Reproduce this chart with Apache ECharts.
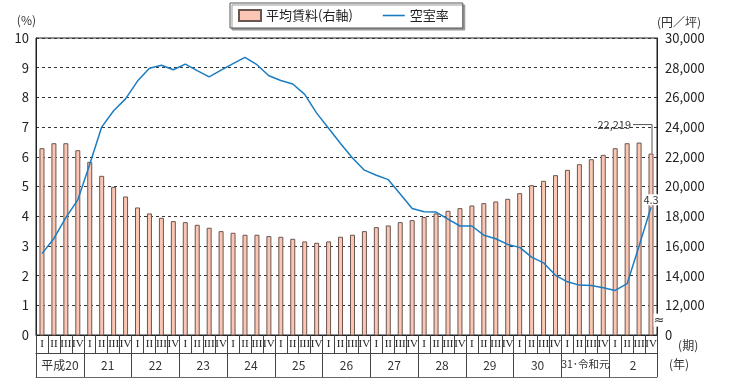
<!DOCTYPE html>
<html><head><meta charset="utf-8">
<script src="https://cdn.jsdelivr.net/npm/echarts@6/dist/echarts.min.js"></script>
<style>html,body{margin:0;padding:0;background:#fff}#c{width:730px;height:387px}</style>
</head><body><div id="c"></div>
<script>
const quarterLabels = [
 'I','II','III','IV','I','II','III','IV','I','II','III','IV','I','II','III','IV',
 'I','II','III','IV','I','II','III','IV','I','II','III','IV','I','II','III','IV',
 'I','II','III','IV','I','II','III','IV','I','II','III','IV','I','II','III','IV',
 'I','II','III','IV'];
const yearLabels = ['平成20','21','22','23','24','25','26','27','28','29','30','31･令和元','2'];
const rentTicks = [10000,12000,14000,16000,18000,20000,22000,24000,26000,28000,30000];
const rent = [
 22580,22915,22915,22444, 21660,20718,19978,19328, 18588,18185,17893,17669,
 17600,17422,17221,16996, 16884,16750,16750,16660, 16615,16481,16301,16212,
 16301,16615,16750,16996, 17265,17377,17602,17736, 17938,18185,18364,18543,
 18723,18880,18992,19171, 19552,20090,20382,20763, 21122,21503,21839,22131,
 22579,22915,22960,22219];
const vacancy = [
 2.74,3.25,3.95,4.55, 5.75,7.0,7.55,7.95, 8.55,8.98,9.08,8.93,
 9.12,8.9,8.69,8.92, 9.14,9.35,9.10,8.73, 8.57,8.45,8.10,7.47,
 6.96,6.45,5.96,5.55, 5.38,5.23,4.75,4.26, 4.15,4.14,3.9,3.67,
 3.67,3.36,3.24,3.05, 2.95,2.62,2.43,2.01, 1.79,1.68,1.67,1.59,
 1.50,1.73,3.0,4.3];

const FONT = '"Noto Sans CJK JP", "Noto Sans", sans-serif';
const chart = echarts.init(document.getElementById('c'), null, {renderer:'canvas'});
const n = rent.length - 1;
const option = {
  animation: false,
  textStyle: {fontFamily: FONT},
  legend: {
    left: 230, top: 3,
    padding: [6, 14, 6, 8],
    itemGap: 30, itemWidth: 22, itemHeight: 11,
    borderColor: '#555', borderWidth: 1, backgroundColor: '#fff',
    shadowColor: '#9a9a9a', shadowOffsetX: 2, shadowOffsetY: 2, shadowBlur: 0,
    textStyle: {fontSize: 13, color: '#222', fontFamily: FONT},
    data: [{name: '平均賃料(右軸)', icon: 'rect'},
           {name: '空室率', icon: 'path://M0,0 H22 V1.6 H0 Z'}]
  },
  grid: {left: 36, right: 73, top: 38, bottom: 52, show: true, borderColor: '#222', borderWidth: 1},
  xAxis: [
    {type: 'category', data: quarterLabels, position: 'bottom',
     name: '(期)', nameLocation: 'end', nameGap: 12,
     nameTextStyle: {fontSize: 12, color: '#333', verticalAlign: 'top', padding: [4, 0, 0, 0]},
     axisLine: {lineStyle: {color: '#222'}},
     axisTick: {show: true, length: 18, interval: 0, lineStyle: {color: '#444'}},
     axisLabel: {interval: 0, margin: 4, fontFamily: '"Liberation Serif", serif', fontSize: 11, color: '#222'},
     splitLine: {show: false}},
    {type: 'category', data: yearLabels, position: 'bottom', offset: 18,
     name: '(年)', nameLocation: 'end', nameGap: 12,
     nameTextStyle: {fontSize: 12, color: '#333', verticalAlign: 'top', padding: [5, 0, 0, 0]},
     axisLine: {lineStyle: {color: '#444'}},
     axisTick: {show: true, length: 24, interval: 0, lineStyle: {color: '#444'}},
     axisLabel: {interval: 0, margin: 6, fontSize: 12, color: '#333',
       formatter: v => v.indexOf('令和') >= 0 ? '{s|' + v + '}' : v,
       rich: {s: {fontSize: 10.5, color: '#333'}}}},
    {type: 'category', data: yearLabels, position: 'bottom', offset: 42,
     axisLine: {lineStyle: {color: '#666'}}, axisTick: {show: false}, axisLabel: {show: false}}
  ],
  yAxis: [
    {type: 'value', min: 0, max: 10, interval: 1,
     name: '(%)', nameLocation: 'end', nameGap: 12,
     nameTextStyle: {fontSize: 12, color: '#333', align: 'right'},
     axisLine: {show: true, lineStyle: {color: '#222'}}, axisTick: {show: false},
     axisLabel: {fontSize: 13, color: '#222', margin: 7},
     splitLine: {show: true, lineStyle: {type: [3, 3], color: '#333', width: 1}}},
    {type: 'value', min: 10000, max: 30000, interval: 2000, position: 'right',
     name: '(円／坪)', nameLocation: 'end', nameGap: 10,
     nameTextStyle: {fontSize: 12, color: '#333', align: 'left'},
     axisLine: {show: true, lineStyle: {color: '#222'}}, axisTick: {show: false},
     axisLabel: {fontSize: 13, color: '#222', margin: 8,
       formatter: v => v === rentTicks[0] ? '0' : v.toLocaleString('en-US')},
     splitLine: {show: false}}
  ],
  series: [
    {name: '平均賃料(右軸)', type: 'bar', xAxisIndex: 0, yAxisIndex: 1, barWidth: 5,
     itemStyle: {color: '#fbc6b4', borderColor: '#6a5650', borderWidth: 1},
     data: rent, z: 2},
    {name: '空室率', type: 'line', xAxisIndex: 0, yAxisIndex: 0, symbol: 'none',
     lineStyle: {color: '#1b7cc2', width: 1.5}, itemStyle: {color: '#1b7cc2'},
     data: vacancy, z: 3}
  ]
};
chart.setOption(option);

const pBar = chart.convertToPixel({seriesIndex: 0}, [n, rent[n]]);
const pLine = chart.convertToPixel({seriesIndex: 1}, [n, vacancy[n]]);
const yBreak = chart.convertToPixel({yAxisIndex: 1}, (rentTicks[0] + rentTicks[1]) / 2);
const xa = chart.convertToPixel({xAxisIndex: 0}, n), xb = chart.convertToPixel({xAxisIndex: 0}, n - 1);
const xRight = xa + (xa - xb) / 2;
const y0 = pBar[1] - 29;
chart.setOption({
  graphic: [
    {type: 'polyline', z: 10, shape: {points: [[pBar[0] - 18, y0], [pBar[0] + 1, y0], [pBar[0] + 1, pBar[1]]]},
     style: {stroke: '#555', lineWidth: 1, fill: null}},
    {type: 'text', z: 10, x: pBar[0] - 20, y: y0,
     style: {text: rent[n].toLocaleString('en-US'), font: '11px ' + FONT, fill: '#333', align: 'right', verticalAlign: 'middle'}},
    {type: 'text', z: 10, x: pLine[0], y: pLine[1] - 2,
     style: {text: String(vacancy[n]), font: '11px ' + FONT, fill: '#333', align: 'center', verticalAlign: 'bottom', backgroundColor: '#fff'}},
    {type: 'text', z: 10, x: xRight + 2, y: yBreak,
     style: {text: '≈', font: '13px "DejaVu Sans"', fill: '#333', align: 'center', verticalAlign: 'middle', backgroundColor: '#fff'}}
  ]
});
</script>
</body></html>
